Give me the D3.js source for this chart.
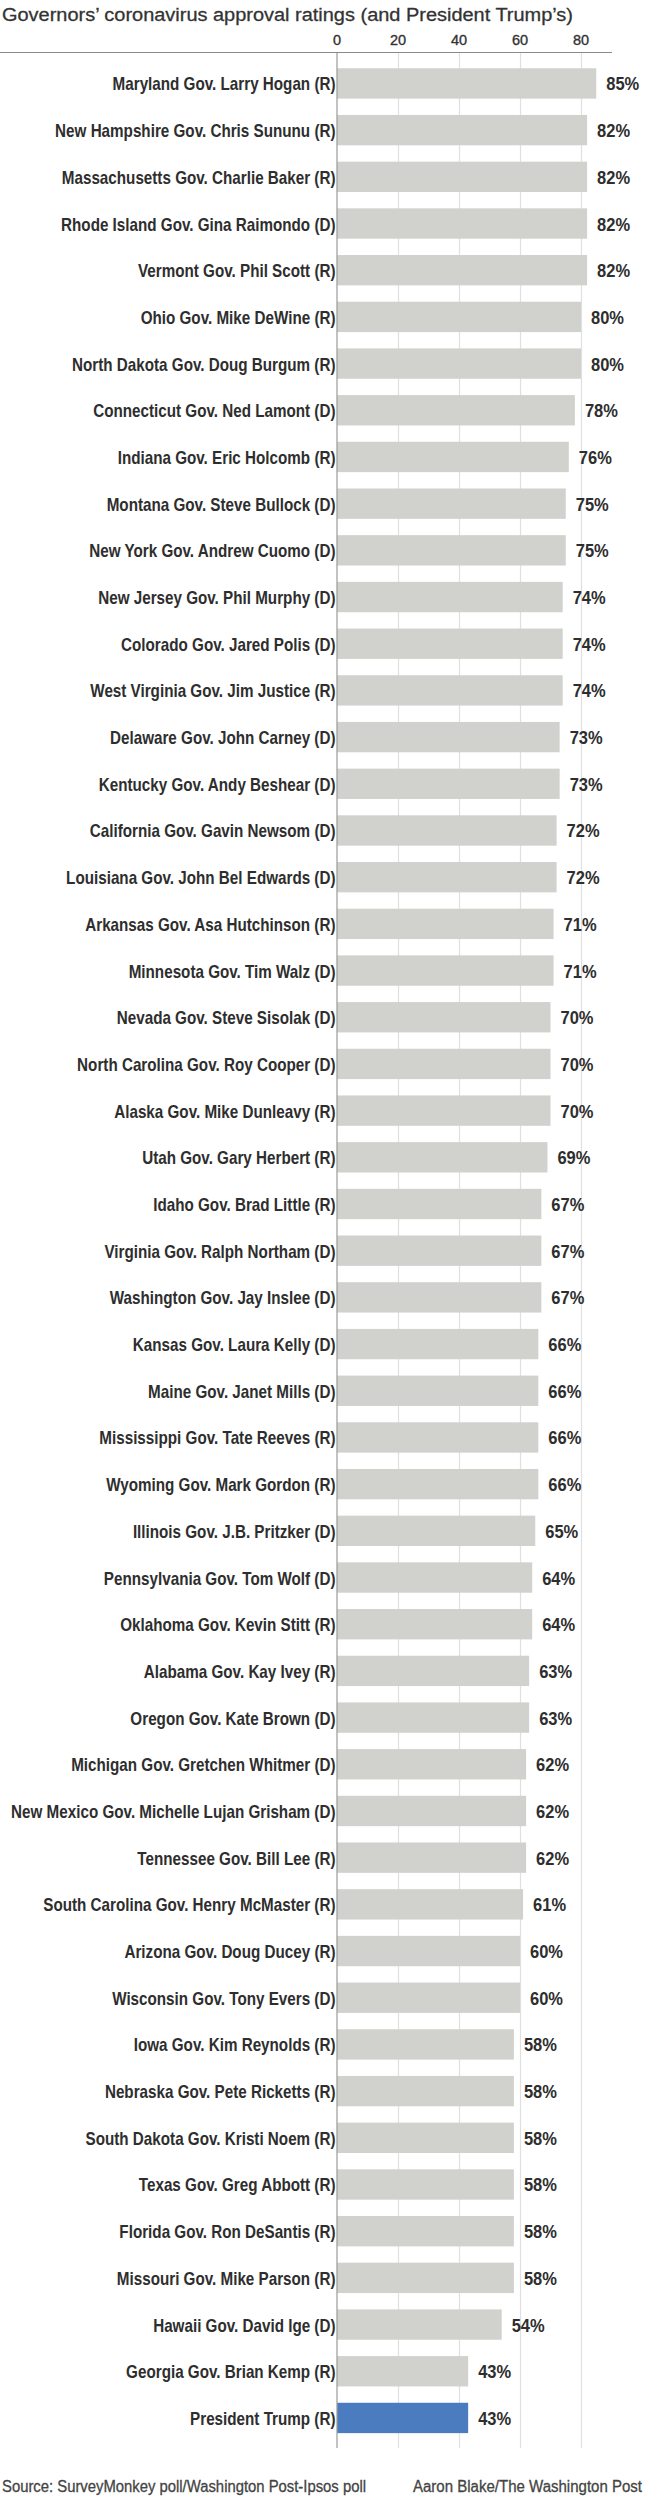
<!DOCTYPE html>
<html>
<head>
<meta charset="utf-8">
<script src="https://cdn.jsdelivr.net/npm/d3@7"></script>
<style>
  html, body { margin: 0; padding: 0; background: #fff; }
  svg { display: block; }
  text { font-family: "Liberation Sans", Arial, sans-serif; }
</style>
</head>
<body>
<svg id="chart" width="658" height="2500"></svg>
<script>
const names = [
  "Maryland Gov. Larry Hogan (R)",
  "New Hampshire Gov. Chris Sununu (R)",
  "Massachusetts Gov. Charlie Baker (R)",
  "Rhode Island Gov. Gina Raimondo (D)",
  "Vermont Gov. Phil Scott (R)",
  "Ohio Gov. Mike DeWine (R)",
  "North Dakota Gov. Doug Burgum (R)",
  "Connecticut Gov. Ned Lamont (D)",
  "Indiana Gov. Eric Holcomb (R)",
  "Montana Gov. Steve Bullock (D)",
  "New York Gov. Andrew Cuomo (D)",
  "New Jersey Gov. Phil Murphy (D)",
  "Colorado Gov. Jared Polis (D)",
  "West Virginia Gov. Jim Justice (R)",
  "Delaware Gov. John Carney (D)",
  "Kentucky Gov. Andy Beshear (D)",
  "California Gov. Gavin Newsom (D)",
  "Louisiana Gov. John Bel Edwards (D)",
  "Arkansas Gov. Asa Hutchinson (R)",
  "Minnesota Gov. Tim Walz (D)",
  "Nevada Gov. Steve Sisolak (D)",
  "North Carolina Gov. Roy Cooper (D)",
  "Alaska Gov. Mike Dunleavy (R)",
  "Utah Gov. Gary Herbert (R)",
  "Idaho Gov. Brad Little (R)",
  "Virginia Gov. Ralph Northam (D)",
  "Washington Gov. Jay Inslee (D)",
  "Kansas Gov. Laura Kelly (D)",
  "Maine Gov. Janet Mills (D)",
  "Mississippi Gov. Tate Reeves (R)",
  "Wyoming Gov. Mark Gordon (R)",
  "Illinois Gov. J.B. Pritzker (D)",
  "Pennsylvania Gov. Tom Wolf (D)",
  "Oklahoma Gov. Kevin Stitt (R)",
  "Alabama Gov. Kay Ivey (R)",
  "Oregon Gov. Kate Brown (D)",
  "Michigan Gov. Gretchen Whitmer (D)",
  "New Mexico Gov. Michelle Lujan Grisham (D)",
  "Tennessee Gov. Bill Lee (R)",
  "South Carolina Gov. Henry McMaster (R)",
  "Arizona Gov. Doug Ducey (R)",
  "Wisconsin Gov. Tony Evers (D)",
  "Iowa Gov. Kim Reynolds (R)",
  "Nebraska Gov. Pete Ricketts (R)",
  "South Dakota Gov. Kristi Noem (R)",
  "Texas Gov. Greg Abbott (R)",
  "Florida Gov. Ron DeSantis (R)",
  "Missouri Gov. Mike Parson (R)",
  "Hawaii Gov. David Ige (D)",
  "Georgia Gov. Brian Kemp (R)",
  "President Trump (R)"
];
const approval = [85,82,82,82,82,80,80,78,76,75,75,74,74,74,73,73,72,72,71,71,70,70,70,69,67,67,67,66,66,66,66,65,64,64,63,63,62,62,62,61,60,60,58,58,58,58,58,58,54,43,43];
const highlight = ["President Trump (R)"];
const xTicks = [0, 20, 40, 60, 80];
const titleText = "Governors\u2019 coronavirus approval ratings (and President Trump\u2019s)";
const sourceText = "Source: SurveyMonkey poll/Washington Post-Ipsos poll";
const creditText = "Aaron Blake/The Washington Post";

const data = names.map((n, i) => ({ name: n, value: approval[i] }));

const svg = d3.select("#chart");

const x = d3.scaleLinear().domain([0, 100]).range([337, 642]);
const y = d3.scaleBand()
  .domain(names)
  .range([60.1, 60.1 + 51 * 46.69])
  .paddingInner(0.35)
  .paddingOuter(0.175);

function measure(str, size, weight) {
  const t = svg.append("text").attr("font-size", size).attr("font-weight", weight).text(str);
  const w = t.node().getComputedTextLength();
  t.remove();
  return w;
}
const labelSize = 18.6, labelWeight = "bold";
const condense = 223 / measure(names[0], labelSize, labelWeight);
const valueCondense = 33 / measure("85%", labelSize, labelWeight);

// title
svg.append("text")
  .attr("x", 2).attr("y", 20.8)
  .attr("font-size", 18.8)
  .attr("fill", "#333")
  .attr("stroke", "#333").attr("stroke-width", 0.3)
  .attr("textLength", 571)
  .attr("lengthAdjust", "spacingAndGlyphs")
  .text(titleText);

// top axis line
svg.append("line")
  .attr("x1", 0).attr("x2", 612)
  .attr("y1", 52.5).attr("y2", 52.5)
  .attr("stroke", "#8a8a8a").attr("stroke-width", 1.2);

// gridlines
svg.append("g").selectAll("line")
  .data(xTicks.filter(d => d > 0))
  .join("line")
  .attr("x1", d => x(d) + 0.5).attr("x2", d => x(d) + 0.5)
  .attr("y1", 53).attr("y2", 2448)
  .attr("stroke", "#e0e0e0").attr("stroke-width", 1.2);

// tick labels
svg.append("g").selectAll("text")
  .data(xTicks)
  .join("text")
  .attr("x", d => x(d))
  .attr("y", 45)
  .attr("text-anchor", "middle")
  .attr("font-size", 14.5)
  .attr("fill", "#333")
  .attr("stroke", "#333").attr("stroke-width", 0.35)
  .text(d => d);

// bars
svg.append("g").selectAll("rect")
  .data(data)
  .join("rect")
  .attr("x", x(0))
  .attr("y", d => y(d.name))
  .attr("width", d => x(d.value) - x(0))
  .attr("height", y.bandwidth())
  .attr("fill", d => highlight.includes(d.name) ? "#4a7cbf" : "#d1d1cd");

// zero line
svg.append("line")
  .attr("x1", x(0)).attr("x2", x(0))
  .attr("y1", 53).attr("y2", 2448)
  .attr("stroke", "#9a9a9a").attr("stroke-width", 1.2);

// category labels
svg.append("g").selectAll("text")
  .data(data)
  .join("text")
  .attr("transform", d => `translate(${x(0) - 1.5},${y(d.name) + y.bandwidth() / 2 + 7}) scale(${condense},1)`)
  .attr("text-anchor", "end")
  .attr("font-size", labelSize)
  .attr("font-weight", labelWeight)
  .attr("fill", "#2e2e2e")
  .text(d => d.name);

// value labels
svg.append("g").selectAll("text")
  .data(data)
  .join("text")
  .attr("transform", d => `translate(${x(d.value) + 10},${y(d.name) + y.bandwidth() / 2 + 7}) scale(${valueCondense},1)`)
  .attr("font-size", labelSize)
  .attr("font-weight", labelWeight)
  .attr("fill", "#2e2e2e")
  .text(d => d.value + "%");

// footer
svg.append("text")
  .attr("x", 2).attr("y", 2491.5)
  .attr("font-size", 16)
  .attr("fill", "#444")
  .attr("stroke", "#444").attr("stroke-width", 0.3)
  .attr("textLength", 364)
  .attr("lengthAdjust", "spacingAndGlyphs")
  .text(sourceText);
svg.append("text")
  .attr("x", 413).attr("y", 2491.5)
  .attr("font-size", 16)
  .attr("fill", "#444")
  .attr("stroke", "#444").attr("stroke-width", 0.3)
  .attr("textLength", 229)
  .attr("lengthAdjust", "spacingAndGlyphs")
  .text(creditText);
</script>
</body>
</html>
